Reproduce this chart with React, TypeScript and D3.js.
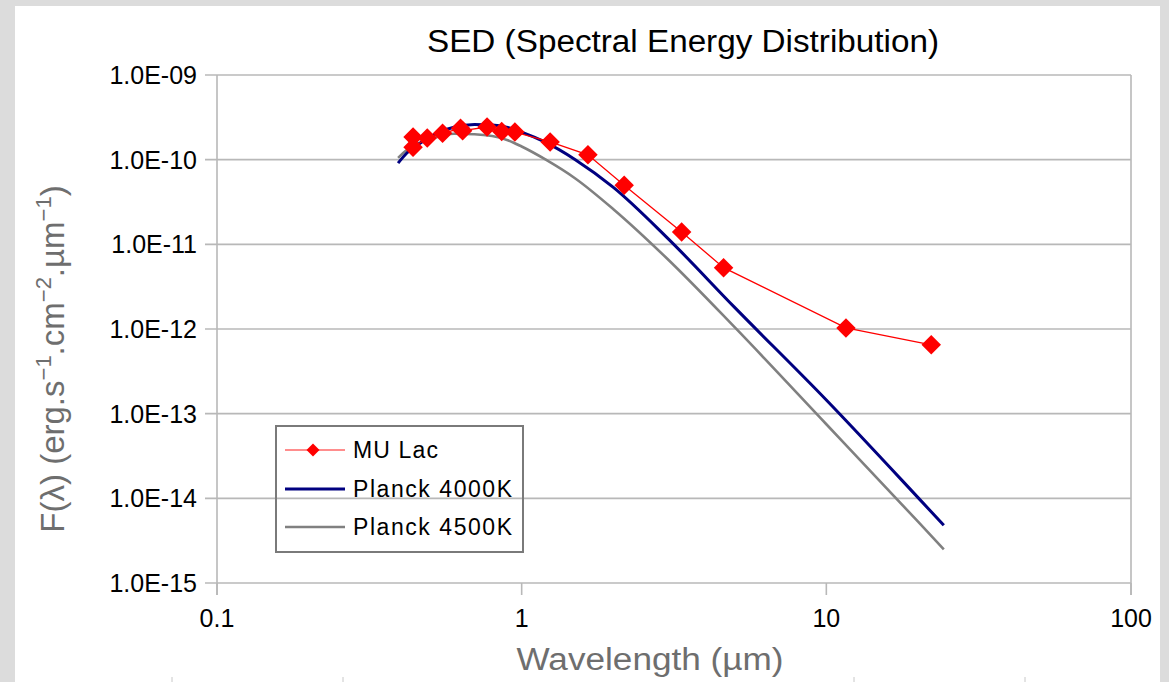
import React, { useEffect, useRef } from 'react';
import * as d3 from 'd3';

// MU Lac photometry (wavelength in µm, flux in erg/s/cm2/µm)
const muLacWavelength = [0.44, 0.44, 0.49, 0.55, 0.63, 0.64, 0.77, 0.86, 0.95, 1.24, 1.65, 2.17, 3.35, 4.6, 11.6, 22.1];
const muLacFlux = [1.85e-10, 1.4e-10, 1.8e-10, 2.05e-10, 2.35e-10, 2.2e-10, 2.43e-10, 2.15e-10, 2.12e-10, 1.62e-10, 1.14e-10, 5.0e-11, 1.4e-11, 5.3e-12, 1.03e-12, 6.5e-13];

// blackbody curves
const planckWavelength = [0.393, 0.42, 0.45, 0.5, 0.55, 0.6, 0.7, 0.8, 0.9, 1.0, 1.2, 1.5, 2.0, 3.0, 5.0, 10, 20, 24.3];
const planck4000Flux = [9.1e-11, 1.2e-10, 1.45e-10, 1.85e-10, 2.2e-10, 2.42e-10, 2.6e-10, 2.57e-10, 2.4e-10, 2.12e-10, 1.6e-10, 1.0e-10, 4.7e-11, 1.2e-11, 1.8e-12, 1.45e-13, 1.02e-14, 4.8e-15];
const planck4500Flux = [1.05e-10, 1.3e-10, 1.5e-10, 1.75e-10, 1.92e-10, 2.02e-10, 2.0e-10, 1.9e-10, 1.7e-10, 1.43e-10, 1.0e-10, 6.0e-11, 2.6e-11, 6.8e-12, 1.05e-12, 7.5e-14, 5.3e-15, 2.5e-15];

const xTicks = [0.1, 1, 10, 100];
const yTicks = [1e-15, 1e-14, 1e-13, 1e-12, 1e-11, 1e-10, 1e-9];
const yTickLabels = ['1.0E-15', '1.0E-14', '1.0E-13', '1.0E-12', '1.0E-11', '1.0E-10', '1.0E-09'];

const seriesNames = ['MU Lac', 'Planck 4000K', 'Planck 4500K'];
const seriesColors = ['#ff0000', '#000080', '#808080'];

const FONT = '"Liberation Sans", Arial, sans-serif';

const App = () => {
    const ref = useRef(null);

    useEffect(() => {
        const width = 1169, height = 682;
        d3.select(ref.current).selectAll('svg').remove();

        const svg = d3.select(ref.current).append('svg')
            .attr('width', width)
            .attr('height', height)
            .style('position', 'absolute')
            .style('left', 0)
            .style('top', 0)
            .style('font-family', FONT);

        // page frame
        svg.append('rect').attr('width', width).attr('height', height).attr('fill', '#dcdcdc');
        svg.append('rect').attr('x', 15).attr('y', 6).attr('width', 1145).attr('height', height - 6).attr('fill', '#fff');
        // little marks of the page below the chart
        svg.append('g').selectAll('line').data([172, 343, 854, 1025]).join('line')
            .attr('x1', d => d).attr('x2', d => d).attr('y1', 677).attr('y2', 682)
            .attr('stroke', '#c8c8c8').attr('stroke-width', 1);

        const plot = { left: 217, right: 1131, top: 75, bottom: 583 };
        const x = d3.scaleLog().domain([0.1, 100]).range([plot.left, plot.right]);
        const y = d3.scaleLog().domain([1e-15, 1e-9]).range([plot.bottom, plot.top]);

        // grid
        svg.append('g').selectAll('line').data(yTicks).join('line')
            .attr('x1', plot.left - 12).attr('x2', plot.right)
            .attr('y1', d => y(d)).attr('y2', d => y(d))
            .attr('stroke', '#b8b8b8').attr('stroke-width', 1.6);
        svg.append('line').attr('x1', plot.left).attr('x2', plot.left)
            .attr('y1', plot.top).attr('y2', plot.bottom + 12)
            .attr('stroke', '#b8b8b8').attr('stroke-width', 1.6);
        svg.append('line').attr('x1', plot.right).attr('x2', plot.right)
            .attr('y1', plot.top).attr('y2', plot.bottom + 12)
            .attr('stroke', '#b8b8b8').attr('stroke-width', 1.6);
        svg.append('g').selectAll('line').data(xTicks).join('line')
            .attr('x1', d => x(d)).attr('x2', d => x(d))
            .attr('y1', plot.bottom).attr('y2', plot.bottom + 12)
            .attr('stroke', '#b8b8b8').attr('stroke-width', 1.6);

        // tick labels
        svg.append('g').selectAll('text').data(yTicks).join('text')
            .attr('x', plot.left - 20).attr('y', d => y(d) + 9)
            .attr('text-anchor', 'end').attr('font-size', 25).attr('fill', '#000')
            .text((d, i) => yTickLabels[i]);
        svg.append('g').selectAll('text').data(xTicks).join('text')
            .attr('x', d => x(d)).attr('y', plot.bottom + 44)
            .attr('text-anchor', 'middle').attr('font-size', 25).attr('fill', '#000')
            .text(d => String(d));

        // title and axis titles
        svg.append('text').attr('x', 683).attr('y', 52).attr('text-anchor', 'middle')
            .attr('font-size', 31).attr('fill', '#000')
            .attr('textLength', 512).attr('lengthAdjust', 'spacingAndGlyphs')
            .text('SED (Spectral Energy Distribution)');
        svg.append('text').attr('x', 650).attr('y', 670).attr('text-anchor', 'middle')
            .attr('font-size', 31).attr('fill', '#6e6e6e')
            .attr('textLength', 267).attr('lengthAdjust', 'spacingAndGlyphs')
            .text('Wavelength (µm)');

        const yTitle = svg.append('text')
            .attr('transform', 'translate(64,359) rotate(-90)')
            .attr('text-anchor', 'middle').attr('font-size', 33).attr('fill', '#6e6e6e');
        const parts = [['F(λ) (erg.s', 0], ['−1', 1], ['.cm', 0], ['−2', 1], ['.µm', 0], ['−1', 1], [')', 0]];
        parts.forEach(([t, sup]) => {
            yTitle.append('tspan')
                .attr('font-size', sup ? 22 : 33)
                .attr('baseline-shift', sup ? '60%' : '0')
                .text(t);
        });

        // series
        const curve = d3.line<number>()
            .x((d, i) => x(planckWavelength[i]))
            .y(d => y(d))
            .curve(d3.curveMonotoneX);
        svg.append('path').attr('d', curve(planck4500Flux))
            .attr('fill', 'none').attr('stroke', seriesColors[2]).attr('stroke-width', 2.6);
        svg.append('path').attr('d', curve(planck4000Flux))
            .attr('fill', 'none').attr('stroke', seriesColors[1]).attr('stroke-width', 3);

        const muLine = d3.line<number>()
            .x((d, i) => x(muLacWavelength[i]))
            .y(d => y(d));
        svg.append('path').attr('d', muLine(muLacFlux))
            .attr('fill', 'none').attr('stroke', seriesColors[0]).attr('stroke-width', 1.3);

        const diamond = d3.symbol(d3.symbolSquare, 190);
        svg.append('g').selectAll('path').data(muLacFlux).join('path')
            .attr('d', diamond)
            .attr('transform', (d, i) => `translate(${x(muLacWavelength[i])},${y(d)}) rotate(45)`)
            .attr('fill', seriesColors[0]);

        // legend
        const lg = svg.append('g');
        lg.append('rect').attr('x', 276).attr('y', 426).attr('width', 247).attr('height', 126)
            .attr('fill', 'none').attr('stroke', '#7a7a7a').attr('stroke-width', 2);
        const rowY = [450, 489, 527];
        const textLengths = [85, 159, 159];
        seriesNames.forEach((name, i) => {
            lg.append('line').attr('x1', 285).attr('x2', 345)
                .attr('y1', rowY[i]).attr('y2', rowY[i])
                .attr('stroke', seriesColors[i])
                .attr('stroke-width', i === 0 ? 1.5 : i === 1 ? 3 : 2.6)
                .attr('stroke-opacity', i === 0 ? 0.6 : 1);
            if (i === 0) {
                lg.append('path').attr('d', d3.symbol(d3.symbolSquare, 85)())
                    .attr('transform', `translate(313,${rowY[i]}) rotate(45)`)
                    .attr('fill', seriesColors[0]);
            }
            lg.append('text').attr('x', 353).attr('y', rowY[i] + 8)
                .attr('font-size', 23).attr('fill', '#000')
                .attr('textLength', textLengths[i])
                .text(name);
        });
    }, []);

    return <div ref={ref}></div>;
};

export default App;
